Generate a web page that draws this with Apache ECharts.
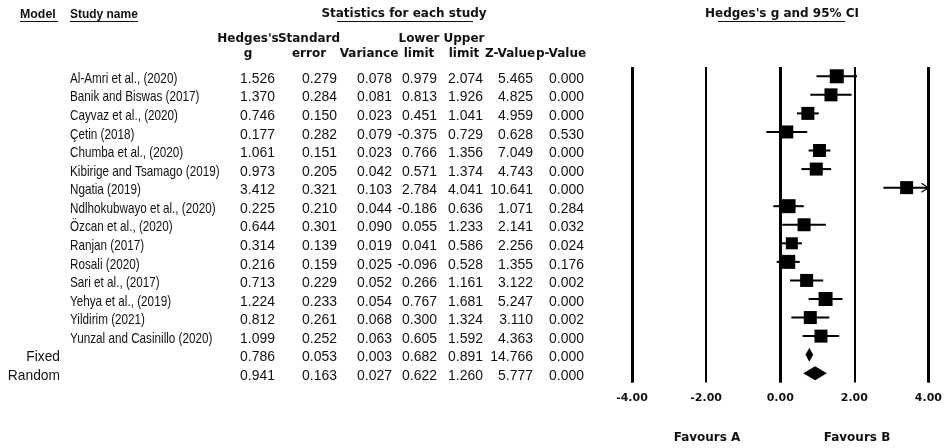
<!DOCTYPE html>
<html>
<head>
<meta charset="utf-8">
<script src="https://cdn.jsdelivr.net/npm/echarts@6/dist/echarts.min.js"></script>
<style>
html,body{margin:0;padding:0;background:#fff;}
#chart{width:945px;height:448px;}
</style>
</head>
<body>
<div id="chart"></div>
<script>
// ---------- data ----------
const studies = [
  'Al-Amri et al., (2020)', 'Banik and Biswas (2017)', 'Cayvaz et al., (2020)', 'Çetin (2018)',
  'Chumba et al., (2020)', 'Kibirige and Tsamago (2019)', 'Ngatia (2019)', 'Ndlhokubwayo et al., (2020)',
  'Özcan et al., (2020)', 'Ranjan (2017)', 'Rosali (2020)', 'Sari et al., (2017)',
  'Yehya et al., (2019)', 'Yildirim (2021)', 'Yunzal and Casinillo (2020)'
];
const hedgesG  = [1.526, 1.370, 0.746, 0.177, 1.061, 0.973, 3.412, 0.225, 0.644, 0.314, 0.216, 0.713, 1.224, 0.812, 1.099];
const stdError = [0.279, 0.284, 0.150, 0.282, 0.151, 0.205, 0.321, 0.210, 0.301, 0.139, 0.159, 0.229, 0.233, 0.261, 0.252];
const variance = [0.078, 0.081, 0.023, 0.079, 0.023, 0.042, 0.103, 0.044, 0.090, 0.019, 0.025, 0.052, 0.054, 0.068, 0.063];
const lowerLim = [0.979, 0.813, 0.451, -0.375, 0.766, 0.571, 2.784, -0.186, 0.055, 0.041, -0.096, 0.266, 0.767, 0.300, 0.605];
const upperLim = [2.074, 1.926, 1.041, 0.729, 1.356, 1.374, 4.041, 0.636, 1.233, 0.586, 0.528, 1.161, 1.681, 1.324, 1.592];
const zValue   = [5.465, 4.825, 4.959, 0.628, 7.049, 4.743, 10.641, 1.071, 2.141, 2.256, 1.355, 3.122, 5.247, 3.110, 4.363];
const pValue   = [0.000, 0.000, 0.000, 0.530, 0.000, 0.000, 0.000, 0.284, 0.032, 0.024, 0.176, 0.002, 0.000, 0.002, 0.000];
// square sizes (px) (study weights)
const squareSize = [14, 13, 13, 13, 13, 13, 13, 14, 13, 12, 14, 13, 14, 13, 13];

const summaryModels = ['Fixed', 'Random'];
const sumG     = [0.786, 0.941];
const sumSE    = [0.053, 0.163];
const sumVar   = [0.003, 0.027];
const sumLower = [0.682, 0.622];
const sumUpper = [0.891, 1.260];
const sumZ     = [14.766, 5.777];
const sumP     = [0.000, 0.000];

const headerLine1 = ["Hedges's", 'Standard', '', 'Lower', 'Upper', '', ''];
const headerLine2 = ['g', 'error', 'Variance', 'limit', 'limit', 'Z-Value', 'p-Value'];
const xTicks = { min: -4, max: 4, interval: 2 };
const thickLines = [-4, 0, 4];

// ---------- layout ----------
const colRight = [275, 337, 392, 437, 483, 533, 584];
const colCenter = [248, 309, 369, 419, 464, 510, 561];
const NAME_X = 70, MODEL_X = 60, TEXT_DY = 2.5;
const NUM_FONT = '15px "Liberation Sans", Arial, sans-serif';
const HEAD_FONT = 'bold 12px "DejaVu Sans", Verdana, sans-serif';

const rowLabels = studies.concat(summaryModels);

const studyData = studies.map((s, i) => [i, hedgesG[i], lowerLim[i], upperLim[i], squareSize[i]]);
const sumData = summaryModels.map((s, i) => [studies.length + i, sumG[i], sumLower[i], sumUpper[i]]);
const tableData = rowLabels.map((s, i) => {
  const isSum = i >= studies.length;
  const j = isSum ? i - studies.length : i;
  return isSum
    ? [i, sumG[j], sumSE[j], sumVar[j], sumLower[j], sumUpper[j], sumZ[j], sumP[j]]
    : [i, hedgesG[j], stdError[j], variance[j], lowerLim[j], upperLim[j], zValue[j], pValue[j]];
});

function txt(x, y, text, font, align, sx) {
  return { type: 'text', x: x, y: y, scaleX: sx || 1,
    style: { text: text, x: 0, y: 0, font: font, fill: '#111', align: align, verticalAlign: 'middle' } };
}

const chart = echarts.init(document.getElementById('chart'), null, { renderer: 'canvas' });

const graphics = [];
// titles
graphics.push({ type: 'text', left: 20, top: 8, style: { text: 'Model', font: 'bold 13px "Liberation Sans", Arial, sans-serif', fill: '#111' }, scaleX: 0.95 });
graphics.push({ type: 'line', shape: { x1: 20, y1: 21.5, x2: 58, y2: 21.5 }, style: { stroke: '#111', lineWidth: 1 } });
graphics.push({ type: 'text', left: 70, top: 8, style: { text: 'Study name', font: 'bold 13px "Liberation Sans", Arial, sans-serif', fill: '#111' }, scaleX: 0.92 });
graphics.push({ type: 'line', shape: { x1: 70, y1: 21.5, x2: 138, y2: 21.5 }, style: { stroke: '#111', lineWidth: 1 } });
graphics.push({ type: 'text', x: 404, y: 14, style: { text: 'Statistics for each study', font: HEAD_FONT, fill: '#111', align: 'center', verticalAlign: 'middle' } });
graphics.push({ type: 'line', shape: { x1: 337, y1: 21.5, x2: 473, y2: 21.5 }, style: { stroke: '#111', lineWidth: 1 } });
graphics.push({ type: 'text', x: 782, y: 14, style: { text: "Hedges's g and 95% CI", font: HEAD_FONT, fill: '#111', align: 'center', verticalAlign: 'middle' } });
graphics.push({ type: 'line', shape: { x1: 718, y1: 21.5, x2: 845, y2: 21.5 }, style: { stroke: '#111', lineWidth: 1 } });
// column headers
headerLine1.forEach((h, k) => { if (h) graphics.push({ type: 'text', x: colCenter[k], y: 39, style: { text: h, font: HEAD_FONT, fill: '#111', align: 'center', verticalAlign: 'middle' } }); });
headerLine2.forEach((h, k) => { if (h) graphics.push({ type: 'text', x: colCenter[k], y: 54, style: { text: h, font: HEAD_FONT, fill: '#111', align: 'center', verticalAlign: 'middle' } }); });
// favours labels
graphics.push({ type: 'text', x: 707, y: 438, style: { text: 'Favours A', font: HEAD_FONT, fill: '#111', align: 'center', verticalAlign: 'middle' } });
graphics.push({ type: 'text', x: 857, y: 438, style: { text: 'Favours B', font: HEAD_FONT, fill: '#111', align: 'center', verticalAlign: 'middle' } });

const option = {
  animation: false,
  backgroundColor: '#fff',
  grid: { left: 632, right: 13, top: 67, bottom: 65.5, containLabel: false },
  xAxis: {
    type: 'value', min: xTicks.min, max: xTicks.max, interval: xTicks.interval,
    axisLine: { show: false }, axisTick: { show: false },
    splitLine: { show: true, lineStyle: { color: '#000', width: 2 } },
    axisLabel: { show: true, margin: 10, color: '#111', fontFamily: '"DejaVu Sans", Verdana, sans-serif', fontWeight: 'bold', fontSize: 11,
      showMinLabel: true, showMaxLabel: true, formatter: v => v.toFixed(2) }
  },
  yAxis: {
    type: 'category', inverse: true, data: rowLabels,
    axisLine: { show: false }, axisTick: { show: false }, axisLabel: { show: false }, splitLine: { show: false }
  },
  graphic: graphics,
  series: [
    {
      type: 'line', data: [], z: 1, silent: true,
      markLine: { silent: true, symbol: ['none', 'none'], label: { show: false },
        lineStyle: { color: '#000', width: 3, type: 'solid' },
        data: thickLines.map(v => ({ xAxis: v })) }
    },
    {
      type: 'custom', z: 3, clip: false, data: studyData, encode: { x: 1, y: 0 },
      renderItem: function (params, api) {
        const row = api.value(0), gv = api.value(1), lo = api.value(2), hi = api.value(3), sz = api.value(4);
        const pLo = api.coord([Math.max(lo, xTicks.min), row]);
        const pHi = api.coord([Math.min(hi, xTicks.max), row]);
        const pG = api.coord([gv, row]);
        const ch = [
          { type: 'line', shape: { x1: pLo[0], y1: pLo[1], x2: pHi[0], y2: pHi[1] }, style: { stroke: '#000', lineWidth: 2 } },
          { type: 'rect', shape: { x: pG[0] - sz / 2, y: pG[1] - sz / 2, width: sz, height: sz }, style: { fill: '#000' } }
        ];
        if (hi > xTicks.max) {
          ch.push({ type: 'polyline', shape: { points: [[pHi[0] - 7, pHi[1] - 4.5], [pHi[0], pHi[1]], [pHi[0] - 7, pHi[1] + 4.5]] },
            style: { stroke: '#000', lineWidth: 1.2, fill: null } });
        }
        return { type: 'group', children: ch };
      }
    },
    {
      type: 'custom', z: 3, clip: false, data: sumData, encode: { x: 1, y: 0 },
      renderItem: function (params, api) {
        const row = api.value(0);
        const pG = api.coord([api.value(1), row]);
        const pLo = api.coord([api.value(2), row]);
        const pHi = api.coord([api.value(3), row]);
        const h = 7;
        return { type: 'polygon', shape: { points: [[pLo[0], pG[1]], [pG[0], pG[1] - h], [pHi[0], pG[1]], [pG[0], pG[1] + h]] },
          style: { fill: '#000' } };
      }
    },
    {
      type: 'custom', z: 3, clip: false, data: tableData, encode: { x: 1, y: 0 },
      renderItem: function (params, api) {
        const row = api.value(0);
        const y = api.coord([0, row])[1] + TEXT_DY;
        const ch = [];
        const label = rowLabels[row];
        if (row < studies.length) ch.push(txt(NAME_X, y, label, NUM_FONT, 'left', 0.78));
        else ch.push(txt(MODEL_X, y, label, NUM_FONT, 'right', 0.92));
        for (let k = 0; k < 7; k++) {
          ch.push(txt(colRight[k], y, api.value(k + 1).toFixed(3), NUM_FONT, 'right', 0.93));
        }
        return { type: 'group', children: ch };
      }
    }
  ]
};
chart.setOption(option);
</script>
</body>
</html>
